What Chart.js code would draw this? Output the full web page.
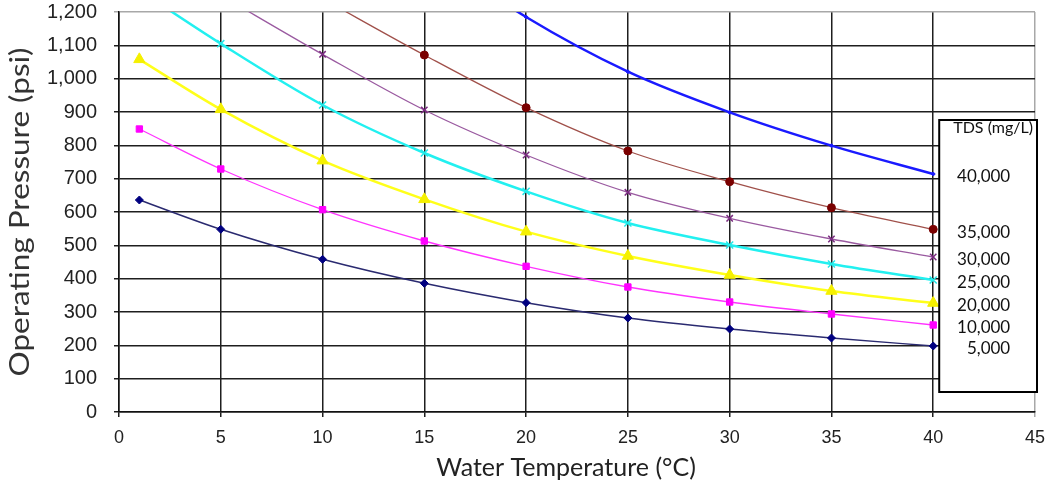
<!DOCTYPE html>
<html>
<head>
<meta charset="utf-8">
<script src="https://cdn.jsdelivr.net/npm/chart.js@4"></script>
<style>
  body { margin:0; background:#fff; }
  #wrap { width:1048px; height:483px; position:relative; }
</style>
</head>
<body>
<div id="wrap"><canvas id="chart"></canvas></div>
<script>
// Water temperature (°C) sample points
const temps = [1, 5, 10, 15, 20, 25, 30, 35, 40];

// Operating pressure (psi) per TDS level
const tds5000  = [636, 548, 458, 386, 328, 282, 249, 222, 198];
const tds10000 = [849, 729, 607, 513, 437, 375, 330, 294, 261];
const tds20000 = [1058, 908, 754, 638, 541, 468, 411, 363, 327];
const tds25000 = [1265, 1105, 921, 777, 662, 567, 501, 444, 396];
const tds30000 = [null, 1250, 1073, 906, 771, 659, 581, 519, 465];
const tds35000 = [null, null, 1240, 1071, 913, 783, 691, 613, 548];
const tds40000 = [null, null, null, 1390, 1185, 1021, 899, 799, 714];

const legendTitle = 'TDS (mg/L)';
const xTitle = 'Water Temperature (°C)';
const yTitle = 'Operating Pressure (psi)';
const xTicks = [0, 5, 10, 15, 20, 25, 30, 35, 40, 45];
const yMax = 1200;

const pts = arr => temps.map((t, i) => ({ x: t, y: arr[i] }));

const series = [
  { label:'40,000', data:tds40000, color:'#1a1aff', mark:'#1a1aff', style:'rectRot', r:2,   w:2.5 },
  { label:'35,000', data:tds35000, color:'#a0504a', mark:'#7a0000', style:'circle',  r:4,   w:1.3 },
  { label:'30,000', data:tds30000, color:'#9a5aa0', mark:'#7a2a80', style:'crossRot',r:4.5, w:1.3 },
  { label:'25,000', data:tds25000, color:'#22f0f0', mark:'#22e8e8', style:'crossRot',r:5,   w:2.5 },
  { label:'20,000', data:tds20000, color:'#ffff1a', mark:'#f5f000', style:'triangle',r:6.5, w:2.5 },
  { label:'10,000', data:tds10000, color:'#ff33ff', mark:'#ff00ff', style:'rect',    r:4.5, w:1.3 },
  { label:'5,000',  data:tds5000,  color:'#2a2a70', mark:'#000080', style:'rectRot', r:4,   w:1.5 },
];

// axis titles (the y one is stretched like in the original) + TDS box
const decor = {
  id:'decor',
  afterDraw(chart) {
    const { ctx, chartArea, scales } = chart;
    ctx.save();
    ctx.fillStyle = '#222';
    ctx.font = '25px Lato, "Open Sans", sans-serif';
    ctx.textAlign = 'center';
    ctx.textBaseline = 'alphabetic';
    ctx.fillText(xTitle, 566, 476);

    ctx.fillStyle = '#333';
    ctx.font = '26px Lato, "Open Sans", sans-serif';
    const tw = ctx.measureText(yTitle).width;
    ctx.translate(29, 212);
    ctx.rotate(-Math.PI / 2);
    ctx.scale(329 / tw, 1);
    ctx.fillText(yTitle, 0, 0);
    ctx.restore();

    const left = scales.x.getPixelForValue(40) + 6;
    const right = chartArea.right + 2;
    const top = 120, bottom = 392;
    ctx.save();
    ctx.fillStyle = '#fff';
    ctx.fillRect(left, top, right - left, bottom - top);
    ctx.strokeStyle = '#000';
    ctx.lineWidth = 2;
    ctx.strokeRect(left, top, right - left, bottom - top);
    ctx.fillStyle = '#111';
    ctx.font = '16px Lato, "Open Sans", sans-serif';
    ctx.textAlign = 'center';
    ctx.textBaseline = 'middle';
    ctx.fillText(legendTitle, (left + right) / 2 + 5, 128);
    ctx.font = '17px Lato, "Open Sans", sans-serif';
    ctx.textAlign = 'right';
    let prev = -Infinity;
    series.forEach(s => {
      const last = s.data[s.data.length - 1];
      let y = scales.y.getPixelForValue(last) + 3;
      if (y < prev + 18) y = prev + 18;
      prev = y;
      ctx.fillText(s.label, left + 71, y);
    });
    ctx.restore();
  }
};

const gridColor = c => (c.tick && (c.tick.value === yMax && c.scale.axis === 'y' || c.tick.value === 45 && c.scale.axis === 'x')) ? '#a8a8a8' : '#1e1e1e';

new Chart(document.getElementById('chart'), {
  type:'line',
  data:{
    datasets: series.map(s => ({
      label:s.label,
      data:pts(s.data),
      borderColor:s.color,
      backgroundColor:s.mark,
      borderWidth:s.w,
      pointStyle:s.style,
      pointRadius:s.r,
      pointBorderColor:s.mark,
      pointBorderWidth:s.style === 'crossRot' ? 1.5 : 1,
      cubicInterpolationMode:'monotone',
      clip:0,
    }))
  },
  options:{
    responsive:true,
    maintainAspectRatio:false,
    animation:false,
    layout:{ padding:{ top:12, right:13, left:0, bottom:0 } },
    plugins:{ legend:{ display:false }, tooltip:{ enabled:false } },
    scales:{
      x:{
        type:'linear', min:0, max:45,
        afterBuildTicks: sc => { sc.ticks = xTicks.map(v => ({ value:v })); },
        afterFit: sc => { sc.height = 71; sc.paddingLeft = 0; sc.paddingRight = 0; },
        grid:{ color:gridColor, lineWidth:1.5, tickLength:5 },
        border:{ color:'#111', width:1.5 },
        ticks:{ color:'#222', padding:10, font:{ family:'"Liberation Sans", Arial, sans-serif', size:18 } },
        title:{ display:false }
      },
      y:{
        min:0, max:yMax,
        afterFit: sc => { sc.width = 119; sc.paddingTop = 0; sc.paddingBottom = 0; },
        grid:{ color:gridColor, lineWidth:1.5, tickLength:5 },
        border:{ color:'#111', width:1.5 },
        ticks:{ stepSize:100, color:'#222', padding:17,
                callback: v => v.toLocaleString('en-US'),
                font:{ family:'"Liberation Sans", Arial, sans-serif', size:20 } },
        title:{ display:false }
      }
    }
  },
  plugins:[decor]
});
</script>
</body>
</html>
